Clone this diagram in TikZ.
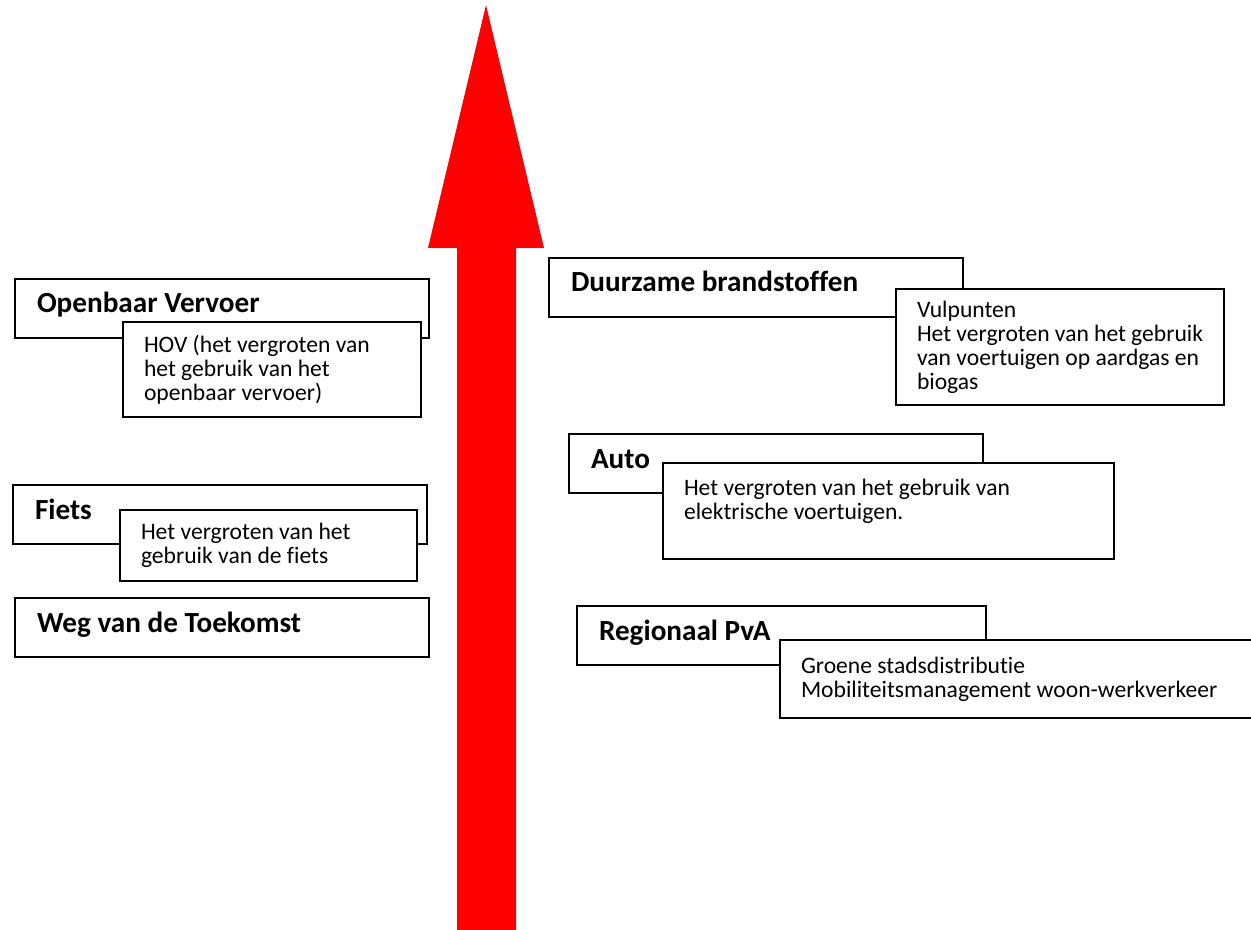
\documentclass[tikz,border=0pt]{standalone}
\usepackage{fontspec}
\setmainfont{Carlito}[Ligatures=NoCommon]
\usetikzlibrary{positioning}
\hyphenpenalty=10000
\exhyphenpenalty=10000

\begin{document}
\begin{tikzpicture}[x=0.5pt,y=-0.5pt,thick,
    execute at begin node={\spaceskip=0pt\xspaceskip=0pt},
    main node/.style={draw,fill=white,line width=1pt,anchor=north west,align=left,text width=185pt,inner xsep=11pt,inner ysep=0pt,minimum height=29.5pt,text height=11pt,text depth=6.5pt,font=\fontsize{14.6}{18}\selectfont\bfseries},
    sub node/.style={draw,fill=white,line width=1pt,align=left,inner xsep=10.5pt,inner ysep=0pt,font=\fontsize{11.8}{12}\selectfont}]

            \useasboundingbox (0,0) rectangle (1251,930);

            % de pijl
            \fill[red] (457,930) -- (457,248) -- (428,248) -- (486,5) -- (544,248) -- (516,248) -- (516,930) -- cycle;

            \node[main node] (1) at (14,278) {Openbaar Vervoer};
            \node[sub node, text width=128pt, minimum height=47.5pt] (2) [below right=21.5pt and 54pt of 1.north west]{HOV (het vergroten van\\het gebruik van het\\openbaar vervoer)};

            \node[main node] (3) at (548,257) {Duurzame brandstoffen};
            \node[sub node, text width=143pt, minimum height=58pt] (4) [below right=15.5pt and 173.5pt of 3.north west]{Vulpunten\\Het vergroten van het gebruik\\van voertuigen op aardgas en\\biogas};

            \node[main node] (5) at (568,433) {Auto};
            \node[sub node, text width=204.5pt, minimum height=48pt] (6) [below right=14.5pt and 47pt of 5.north west]{Het vergroten van het gebruik van\\elektrische voertuigen.\\ \mbox{}};

            \node[main node] (7) at (12,484) {Fiets};
            \node[sub node, text width=127.5pt, minimum height=35.5pt] (8) [below right=12.5pt and 53.5pt of 7.north west]{Het vergroten van het\\gebruik van de fiets};

            \node[main node] (9) at (14,597) {Weg van de Toekomst};

            \node[main node, text width=182.5pt] (10) at (576,605) {Regionaal PvA};
            \node[sub node, text width=220pt, minimum height=39pt] (11) [below right=17pt and 101.5pt of 10.north west]{Groene stadsdistributie\\Mobiliteitsmanagement woon-werkverkeer};

        \end{tikzpicture}
\end{document}
